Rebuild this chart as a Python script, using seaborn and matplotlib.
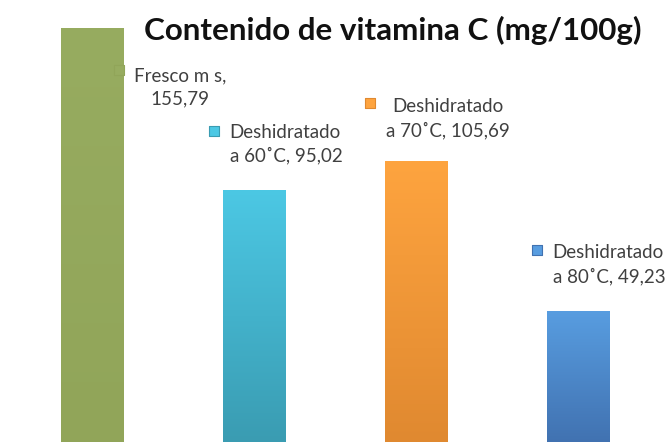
import numpy as np
import matplotlib
matplotlib.use("Agg")
import matplotlib.pyplot as plt
import matplotlib.transforms as mtransforms
from matplotlib.colors import LinearSegmentedColormap
import seaborn as sns

# Datos
categorias = ["Fresco m s", "Deshidratado a 60˚C", "Deshidratado a 70˚C", "Deshidratado a 80˚C"]
valores = [155.79, 95.02, 105.69, 49.23]
etiquetas = ["Fresco m s,\n155,79", "Deshidratado\na 60˚C, 95,02",
             "Deshidratado\na 70˚C, 105,69", "Deshidratado\na 80˚C, 49,23"]
colores_arriba = ["#97AC60", "#4CC8E4", "#FEA43F", "#589DE0"]
colores_abajo = ["#91A559", "#3A9CB2", "#E08930", "#4172B1"]

sns.set_theme(style="white")
plt.rcParams['font.family'] = ['Lato', 'DejaVu Sans']

fig = plt.figure(figsize=(6.65, 4.44), dpi=100)
ax = fig.add_axes([0, 0, 1, 1])

df = {"cat": categorias, "val": valores}
sns.barplot(x="cat", y="val", hue="cat", data=df, order=categorias,
            palette=colores_arriba, legend=False, width=0.385, ax=ax,
            saturation=1)

ax.axis("off")

# Degradado vertical en cada barra
for p, c1, c2 in zip(ax.patches, colores_arriba, colores_abajo):
    x0, y0 = p.get_x(), p.get_y()
    w, h = p.get_width(), p.get_height()
    cmap = LinearSegmentedColormap.from_list("g", [c2, c1])
    grad = np.linspace(0, 1, 256).reshape(-1, 1)
    im = ax.imshow(grad, cmap=cmap, origin="lower", aspect="auto",
                   extent=[x0, x0 + w, y0, y0 + h], zorder=p.get_zorder() + 0.1)
    im.set_clip_path(p)

ax.set_xlim(-0.572, 3.54)
ax.set_ylim(-0.7, 166.3)

# Posiciones de las etiquetas (pixeles relativos al centro superior de la barra)
marca_off = [(26, -42), (-40, 59), (-46, 58), (-41, 61)]
texto_off = [(87.5, -59.5), (-24.5, 45), (32, 42.5), (-25, 46.5)]
alineacion = ["center", "left", "center", "left"]

for i, (v, lab) in enumerate(zip(valores, etiquetas)):
    mx, my = marca_off[i]
    tr = mtransforms.offset_copy(ax.transData, fig=fig, x=mx, y=my, units="dots")
    ax.scatter([i], [v], marker="s", s=50, color=colores_arriba[i],
               edgecolor=colores_abajo[i], linewidth=0.8, transform=tr,
               zorder=5, clip_on=False)
    tx, ty = texto_off[i]
    ax.annotate(lab, xy=(i, v), xytext=(tx * 0.72, ty * 0.72),
                textcoords="offset points", ha=alineacion[i], va="center",
                fontsize=13.5, color="#404040", linespacing=1.4,
                multialignment=alineacion[i], annotation_clip=False)

fig.text(0.59, 0.932, "Contenido de vitamina C (mg/100g)", ha="center",
         va="center", fontsize=22.6, fontweight="bold", color="#111111")

fig.savefig("out.png", dpi=100)
